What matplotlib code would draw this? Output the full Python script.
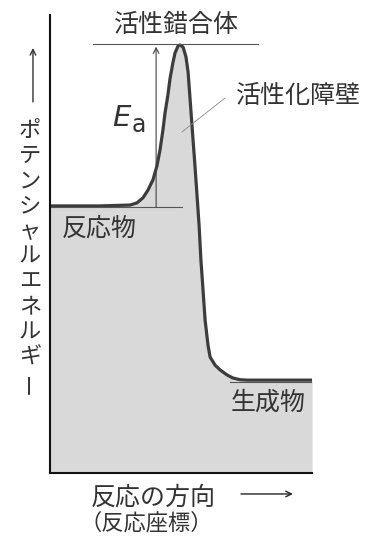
import matplotlib
matplotlib.use("Agg")
import matplotlib.pyplot as plt

plt.rcParams['font.family'] = ['Noto Sans CJK JP', 'DejaVu Sans']

# reaction coordinate (0-100) and potential energy (arbitrary units, peak = 100)
reaction_coord = [0, 19.1, 30.5, 33.2, 35.5, 37.4, 39.3, 40.8, 42.0, 43.1, 43.9,
                  45.0, 45.8, 46.9, 47.7, 48.9, 49.6, 50.8, 51.9, 52.7, 53.4,
                  54.6, 55.3, 56.1, 56.9, 57.6, 58.4, 59.2, 60.3, 61.1, 63.0,
                  64.9, 67.6, 69.8, 72.5, 75.2, 80.2, 100]
potential_energy = [62.4, 62.4, 62.6, 63.1, 64.3, 66.1, 68.5, 71.7, 75.5, 80.1, 84.1,
                    88.3, 92.1, 95.8, 98.1, 99.8, 100.0, 99.5, 97.2, 93.7, 87.9,
                    77.8, 72.0, 65.0, 57.9, 49.8, 42.8, 35.7, 29.9, 27.1, 25.2,
                    24.1, 22.9, 22.2, 21.8, 21.7, 21.7, 21.7]

reactant_level = 62.1
product_level = 21.3
complex_level = 100.2

ylabel_chars = list("ポテンシャルエネルギー")
label_complex = "活性錯合体"
label_barrier = "活性化障壁"
label_reactant = "反応物"
label_product = "生成物"
xlabel_1 = "反応の方向"
xlabel_2 = "（反応座標）"

text_col = '#333333'
line_col = '#555555'

fig = plt.figure(figsize=(3.79, 5.36), dpi=100)
ax = fig.add_axes([50/379, 63/536, 262/379, 458/536])
ax.set_xlim(0, 100)
ax.set_ylim(0, 107.0)
for s in ['top', 'right']:
    ax.spines[s].set_visible(False)
for s in ['left', 'bottom']:
    ax.spines[s].set_linewidth(1.5)
    ax.spines[s].set_color('#111111')
ax.set_xticks([])
ax.set_yticks([])

# energy profile
ax.fill_between(reaction_coord, 0, potential_energy, color='#d9d9d9', lw=0)
ax.plot(reaction_coord, potential_energy, color='#3c3c3c', lw=2.3, solid_capstyle='round')

# reference levels
ax.plot([0, 50.4], [reactant_level, reactant_level], color=line_col, lw=0.8)
ax.plot([16.4, 79.4], [complex_level, complex_level], color=line_col, lw=0.8, clip_on=False)
ax.plot([68.7, 100], [product_level, product_level], color=line_col, lw=0.8)

# activation energy arrow
ax.annotate('', xy=(40.5, complex_level - 0.6), xytext=(40.5, reactant_level),
            arrowprops=dict(arrowstyle='->', color='#444444', lw=0.8,
                            shrinkA=0, shrinkB=0), annotation_clip=False)
ax.text(27.3, 82.9, 'E', fontsize=21, style='italic', color=text_col,
        ha='center', va='center', family='DejaVu Sans')
ax.text(33.8, 81.3, 'a', fontsize=17, color=text_col,
        ha='center', va='center', family='DejaVu Sans')

# barrier leader
ax.plot([50.4, 66.8], [79.7, 87.6], color='#888888', lw=0.6)

ax.text(48.1, 104.7, label_complex, fontsize=18, color=text_col, ha='center', va='center')
ax.text(71.0, 88.1, label_barrier, fontsize=18, color=text_col, ha='left', va='center')
ax.text(4.6, 57.2, label_reactant, fontsize=18, color=text_col, ha='left', va='center')
ax.text(69.1, 16.4, label_product, fontsize=18, color=text_col, ha='left', va='center')

ax.text(39.3, -5.8, xlabel_1, fontsize=18, color=text_col, ha='center', va='center')
ax.text(36.6, -11.7, xlabel_2, fontsize=16, color=text_col, ha='center', va='center')
ax.annotate('', xy=(92.7, -4.9), xytext=(72.9, -4.9),
            arrowprops=dict(arrowstyle='->', color='#222222', lw=1.0,
                            shrinkA=0, shrinkB=0), annotation_clip=False)

# vertical y label
ax.annotate('', xy=(-6.5, 99.3), xytext=(-6.5, 86.7),
            arrowprops=dict(arrowstyle='->', color='#333333', lw=1.0,
                            shrinkA=0, shrinkB=0), annotation_clip=False)
y0, step = 80.1, 5.9
for i, ch in enumerate(ylabel_chars):
    rot = 90 if ch == 'ー' else 0
    ax.text(-7.6, y0 - i * step, ch, fontsize=16, color=text_col,
            ha='center', va='center', rotation=rot)

fig.savefig('out.png', dpi=100)
